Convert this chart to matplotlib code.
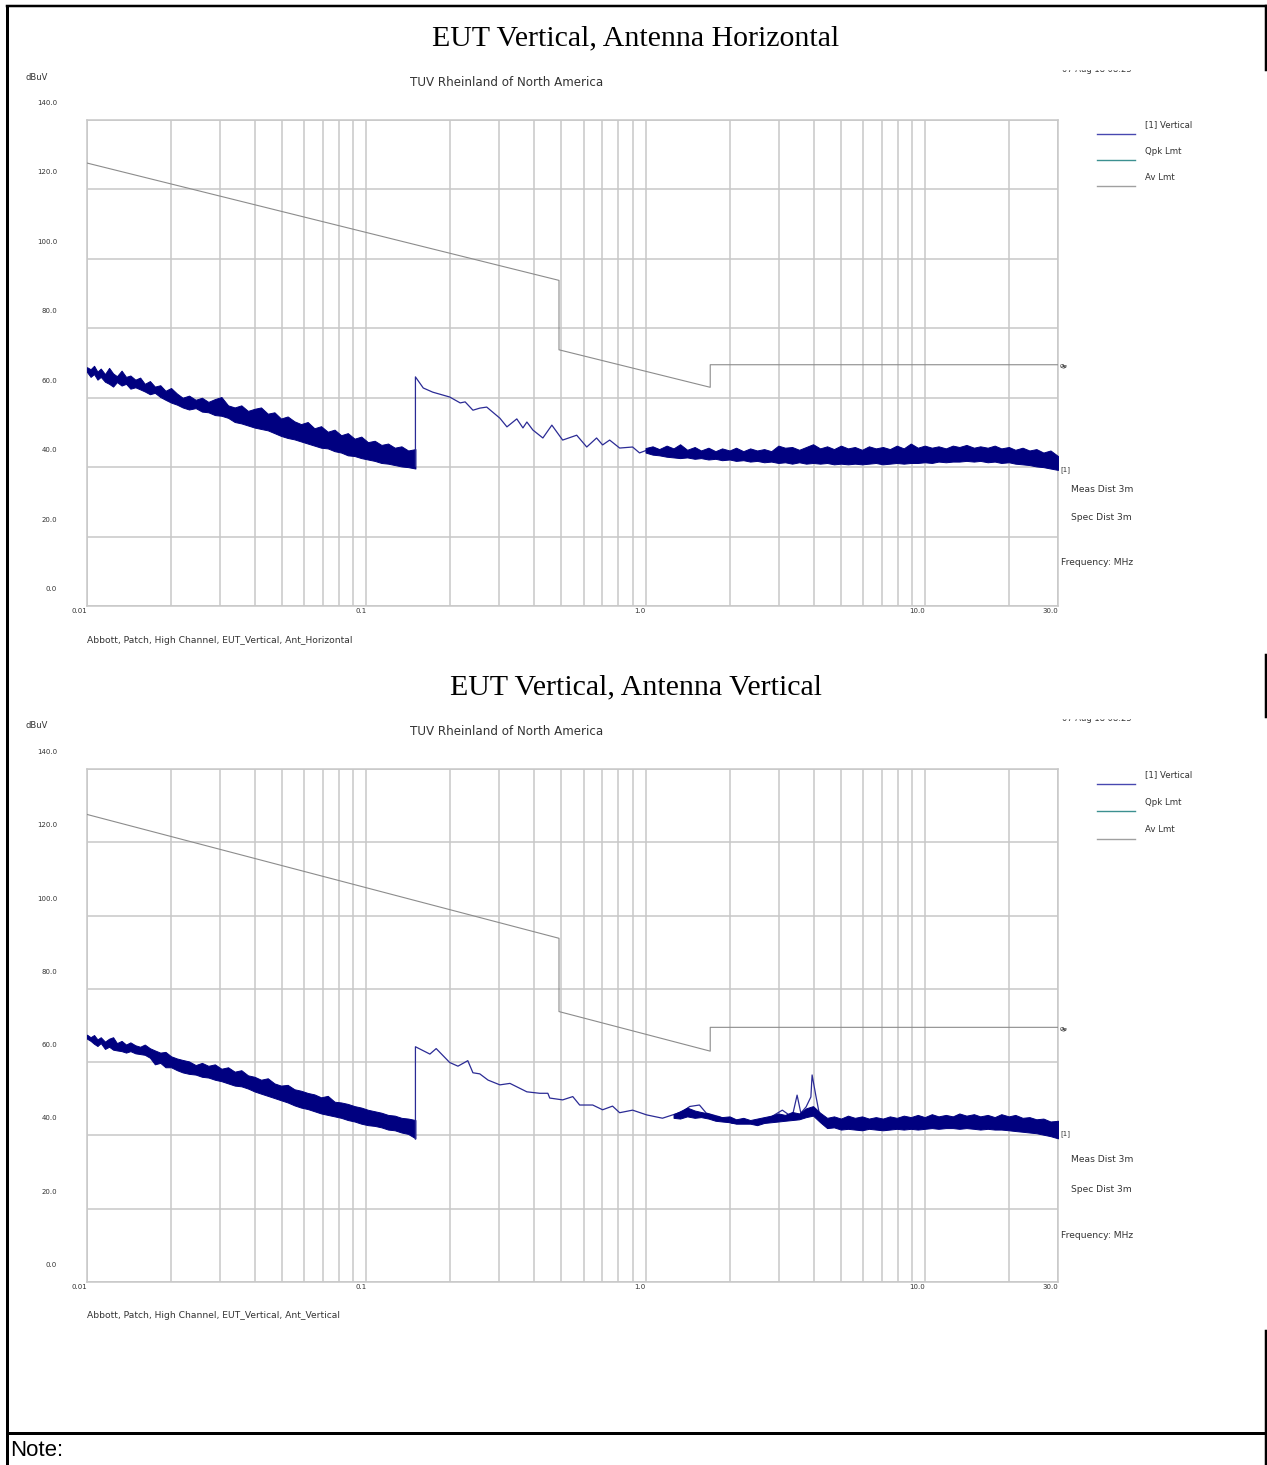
import matplotlib.pyplot as plt
from matplotlib.lines import Line2D
from matplotlib.patches import Rectangle

W, H = 1267, 1465

# ---- limit line (same in both charts) ----
lim_f = [0.01, 0.49, 0.49, 1.705, 1.705, 30.0]
lim_v = [127.6, 93.8, 73.8, 63.0, 69.5, 69.5]

# ---- chart 1: EUT Vertical, Antenna Horizontal ----
# low band 10 kHz - 150 kHz, envelope of the noisy trace (MHz, dBuV)
h_bandA_f = [0.0100, 0.0103, 0.0106, 0.0109, 0.0112, 0.0116, 0.0120, 0.0124, 0.0128, 0.0133,
             0.0138, 0.0143, 0.0149, 0.0155, 0.0161, 0.0168, 0.0175, 0.0183, 0.0191, 0.0200,
             0.0210, 0.0220, 0.0232, 0.0245, 0.0258, 0.0272, 0.0287, 0.0303, 0.0320, 0.0338,
             0.0357, 0.0377, 0.0398, 0.0420, 0.0444, 0.0469, 0.0495, 0.0523, 0.0553, 0.0584,
             0.0617, 0.0652, 0.0689, 0.0728, 0.0770, 0.0813, 0.0859, 0.0908, 0.0960, 0.1014,
             0.1072, 0.1133, 0.1197, 0.1265, 0.1337, 0.1413, 0.1500]
h_bandA_hi = [68.8, 68.2, 69.2, 67.5, 68.4, 66.8, 68.6, 67.0, 66.2, 67.8,
              66.0, 66.4, 65.2, 65.8, 64.0, 64.8, 63.2, 63.6, 62.0, 62.8,
              61.2, 60.0, 60.6, 59.4, 60.0, 58.8, 59.6, 60.2, 57.8, 57.2,
              57.8, 56.2, 56.8, 57.2, 55.4, 55.8, 54.0, 54.6, 53.2, 52.4,
              53.0, 51.2, 51.8, 50.2, 50.8, 49.2, 49.8, 48.2, 48.8, 47.2,
              47.6, 46.4, 46.8, 45.6, 46.0, 44.8, 45.2]
h_bandA_lo = [67.4, 66.0, 66.8, 65.2, 66.0, 64.6, 64.0, 63.2, 64.5, 63.5,
              64.0, 62.6, 63.0, 62.4, 61.8, 61.0, 61.4, 60.2, 59.4, 58.6,
              58.0, 57.2, 56.6, 57.0, 56.0, 55.8, 55.0, 54.8, 54.2, 53.0,
              52.6, 52.0, 51.4, 51.0, 50.6, 49.8, 49.0, 48.4, 48.0, 47.4,
              46.8, 46.2, 45.6, 45.4, 44.6, 44.2, 43.4, 43.2, 42.6, 42.2,
              41.8, 41.2, 41.0, 40.6, 40.2, 40.0, 39.6]
# 150 kHz - 1.5 MHz, single trace
h_mid_f = [0.150, 0.150, 0.160, 0.173, 0.199, 0.217, 0.226, 0.241, 0.255, 0.270,
           0.301, 0.319, 0.346, 0.364, 0.376, 0.395, 0.429, 0.462, 0.505, 0.567,
           0.616, 0.668, 0.702, 0.744, 0.808, 0.899, 0.952, 1.06, 1.19, 1.36, 1.47]
h_mid_v = [40.3, 66.0, 62.8, 61.6, 60.2, 58.5, 58.8, 56.4, 57.0, 57.3,
           54.1, 51.6, 53.9, 51.3, 53.0, 50.7, 48.4, 52.1, 47.8, 49.2,
           45.8, 48.4, 46.4, 47.8, 45.5, 45.8, 44.1, 45.5, 44.4, 43.5, 44.9]
# 1 MHz - 30 MHz, envelope
h_bandC_f = [1.00, 1.06, 1.12, 1.19, 1.26, 1.33, 1.41, 1.50, 1.58, 1.68,
             1.78, 1.88, 2.00, 2.11, 2.24, 2.37, 2.51, 2.66, 2.82, 2.99,
             3.16, 3.35, 3.55, 3.76, 3.98, 4.22, 4.47, 4.73, 5.01, 5.31,
             5.62, 5.96, 6.31, 6.68, 7.08, 7.50, 7.94, 8.41, 8.91, 9.44,
             10.0, 10.6, 11.2, 11.9, 12.6, 13.3, 14.1, 15.0, 15.8, 16.8,
             17.8, 18.8, 20.0, 21.1, 22.4, 23.7, 25.1, 26.6, 28.2, 30.0]
h_bandC_hi = [45.5, 46.0, 45.2, 46.2, 45.4, 46.6, 45.0, 45.8, 44.8, 45.6,
              44.6, 45.4, 44.8, 45.6, 44.6, 45.4, 44.8, 45.2, 44.6, 46.2,
              45.6, 45.8, 45.0, 45.8, 46.6, 45.4, 46.0, 45.2, 46.2, 45.4,
              45.8, 45.0, 46.0, 45.4, 45.8, 45.2, 46.2, 45.4, 46.8, 45.6,
              46.2, 45.6, 46.0, 45.4, 46.2, 45.8, 46.4, 45.6, 46.0, 45.6,
              46.2, 45.4, 45.8, 45.0, 45.6, 44.8, 45.2, 44.2, 44.8, 43.2]
h_bandC_lo = [44.2, 43.6, 43.4, 43.0, 42.8, 42.6, 42.8, 42.4, 42.6, 42.2,
              42.4, 42.0, 42.2, 41.8, 42.0, 41.6, 41.8, 41.4, 41.6, 41.2,
              41.4, 41.0, 41.4, 41.0, 41.2, 41.0, 41.2, 40.8, 41.0, 40.8,
              41.0, 40.8, 41.0, 41.2, 40.8, 41.0, 41.2, 41.0, 41.2, 41.2,
              41.4, 41.2, 41.6, 41.4, 41.6, 41.6, 41.8, 41.6, 41.8, 41.4,
              41.6, 41.2, 41.4, 41.0, 40.8, 40.6, 40.2, 40.0, 39.6, 39.2]

# ---- chart 2: EUT Vertical, Antenna Vertical ----
v_bandA_f = h_bandA_f
v_bandA_hi = [67.5, 66.8, 67.4, 66.2, 66.8, 65.6, 66.4, 66.8, 65.2, 65.8,
              64.8, 65.4, 64.6, 64.2, 64.8, 63.8, 63.2, 62.6, 62.8, 61.6,
              61.0, 60.6, 60.2, 59.2, 59.8, 59.0, 59.4, 58.2, 58.6, 57.4,
              57.8, 56.4, 56.0, 55.2, 55.6, 54.2, 53.6, 53.8, 52.6, 52.2,
              51.6, 51.2, 50.4, 50.8, 49.2, 49.0, 48.6, 48.0, 47.6, 47.0,
              46.6, 46.2, 45.6, 45.4, 44.8, 44.6, 44.2]
v_bandA_lo = [66.4, 65.8, 65.0, 64.4, 65.2, 63.6, 64.2, 63.4, 63.2, 63.0,
              62.6, 63.0, 62.4, 62.2, 62.0, 61.2, 59.4, 59.8, 58.6, 58.6,
              57.8, 57.2, 56.8, 56.6, 56.0, 55.8, 55.2, 54.8, 54.2, 53.6,
              53.4, 52.8, 52.0, 51.4, 50.8, 50.2, 49.6, 49.0, 48.2, 47.6,
              47.2, 46.6, 46.0, 45.6, 45.2, 44.8, 44.2, 43.8, 43.2, 42.8,
              42.6, 42.2, 41.6, 41.4, 40.8, 40.4, 39.2]
v_mid_f = [0.150, 0.150, 0.169, 0.178, 0.199, 0.213, 0.231, 0.241, 0.255, 0.273,
           0.301, 0.327, 0.376, 0.418, 0.447, 0.454, 0.505, 0.549, 0.581, 0.647,
           0.702, 0.762, 0.808, 0.899, 1.01, 1.15, 1.36, 1.44, 1.56, 1.65,
           1.84, 2.04, 2.41, 2.70, 3.09, 3.35, 3.49, 3.60, 3.76, 3.91,
           3.95, 4.07, 4.18, 4.28]
v_mid_v = [39.0, 64.2, 62.2, 63.7, 59.9, 58.9, 60.4, 57.1, 56.8, 55.1,
           53.8, 54.2, 51.9, 51.5, 51.5, 50.2, 49.7, 50.6, 48.3, 48.3,
           47.0, 48.0, 46.2, 46.9, 45.6, 44.7, 46.5, 47.9, 48.3, 46.1,
           45.1, 43.3, 43.7, 44.2, 46.9, 45.0, 51.0, 46.1, 47.8, 50.5,
           56.5, 51.0, 46.4, 44.2]
v_bandC_f = [1.26, 1.33, 1.41, 1.50, 1.58, 1.68, 1.78, 1.88, 2.00, 2.11,
             2.24, 2.37, 2.51, 2.66, 2.82, 2.99, 3.16, 3.35, 3.55, 3.76,
             3.98, 4.22, 4.47, 4.73, 5.01, 5.31, 5.62, 5.96, 6.31, 6.68,
             7.08, 7.50, 7.94, 8.41, 8.91, 9.44, 10.0, 10.6, 11.2, 11.9,
             12.6, 13.3, 14.1, 15.0, 15.8, 16.8, 17.8, 18.8, 20.0, 21.1,
             22.4, 23.7, 25.1, 26.6, 28.2, 30.0]
v_bandC_hi = [45.8, 46.6, 47.6, 46.8, 46.4, 46.0, 45.4, 45.0, 45.2, 44.4,
              44.8, 44.2, 44.6, 45.0, 45.4, 46.0, 45.6, 46.4, 46.0, 47.4,
              48.0, 46.2, 44.8, 45.2, 44.6, 45.4, 44.8, 45.2, 44.6, 45.0,
              44.6, 45.2, 44.8, 45.4, 45.0, 45.6, 45.0, 45.8, 45.2, 45.6,
              45.2, 46.0, 45.4, 45.8, 45.2, 45.6, 45.0, 45.8, 45.2, 45.6,
              44.8, 45.0, 44.4, 44.6, 43.8, 44.0]
v_bandC_lo = [44.8, 44.6, 45.2, 44.8, 45.0, 44.6, 44.0, 43.8, 43.6, 43.2,
              43.2, 43.2, 42.8, 43.4, 43.6, 43.8, 44.0, 44.2, 44.4, 45.0,
              45.4, 43.6, 42.0, 42.2, 41.6, 41.8, 41.6, 41.4, 41.8, 41.6,
              41.4, 41.6, 41.8, 41.6, 41.8, 41.6, 41.8, 42.0, 41.8, 42.0,
              42.0, 41.8, 42.0, 41.8, 41.6, 41.8, 41.6, 41.6, 41.4, 41.2,
              41.0, 40.8, 40.6, 40.2, 39.8, 39.2]

y_ticks = [0, 20, 40, 60, 80, 100, 120, 140]
x_grid = [0.01, 0.02, 0.03, 0.04, 0.05, 0.06, 0.07, 0.08, 0.09,
          0.1, 0.2, 0.3, 0.4, 0.5, 0.6, 0.7, 0.8, 0.9,
          1, 2, 3, 4, 5, 6, 7, 8, 9, 10, 20, 30]
x_labels = [(0.01, '0.01'), (0.1, '0.1'), (1.0, '1.0'), (10.0, '10.0'), (30.0, '30.0')]

trace_col = '#000080'
grid_col = '#c8c8c8'
txt_col = '#333333'


def fx(x):
    return x / W


def fy(y):
    return 1 - y / H


def chart(top, bottom, title, footer, bandA, mid, bandC, tag_y):
    ax = fig.add_axes([fx(87), fy(bottom), fx(1058) - fx(87), fy(top) - fy(bottom)])
    ax.set_xscale('log')
    ax.set_xlim(0.01, 30)
    ax.set_ylim(0, 140)
    ax.set_xticks(x_grid)
    ax.xaxis.set_minor_locator(plt.NullLocator())
    ax.set_yticks(y_ticks)
    ax.tick_params(length=0, labelbottom=False, labelleft=False)
    ax.grid(True, color=grid_col, lw=1.1)
    for s in ax.spines.values():
        s.set_color(grid_col)
        s.set_linewidth(1.1)

    ax.plot(lim_f, lim_v, color='#8c8c8c', lw=0.8, zorder=3)
    ax.fill_between(bandA[0], bandA[2], bandA[1], color=trace_col, lw=0.7, zorder=4)
    ax.plot(mid[0], mid[1], color='#2b2b95', lw=0.9, zorder=4)
    ax.fill_between(bandC[0], bandC[2], bandC[1], color=trace_col, lw=0.7, zorder=4)

    for v in y_ticks:
        ax.annotate('%.1f' % v, xy=(0, v), xycoords=('axes fraction', 'data'),
                    xytext=(-30, 17), textcoords='offset pixels',
                    ha='right', va='center', fontsize=5, color=txt_col)
    for f, lab in x_labels:
        ax.annotate(lab, xy=(f, 0), xycoords=('data', 'axes fraction'),
                    xytext=(0, -2), textcoords='offset pixels',
                    ha='right', va='top', fontsize=5, color=txt_col)

    # tags at right end of the traces
    ax.annotate('Qp', xy=(1, 69.5), xycoords=('axes fraction', 'data'), xytext=(2, -2),
                textcoords='offset pixels', ha='left', va='center', fontsize=4, color=txt_col)
    ax.annotate('Av', xy=(1, 69.5), xycoords=('axes fraction', 'data'), xytext=(3, -2),
                textcoords='offset pixels', ha='left', va='center', fontsize=4, color=txt_col)
    ax.annotate('[1]', xy=(1, tag_y), xycoords=('axes fraction', 'data'), xytext=(2, 0),
                textcoords='offset pixels', ha='left', va='center', fontsize=5, color=txt_col)

    # texts around the chart
    fig.text(fx(636), fy(top - 82), title, ha='center', va='center',
             fontsize=21.5, family='Liberation Serif')
    fig.text(fx(25), fy(top - 43), 'dBuV', ha='left', va='center', fontsize=6, color=txt_col)
    fig.text(fx(507), fy(top - 38), 'TUV Rheinland of North America', ha='center',
             va='center', fontsize=8.6, color=txt_col)
    # date stamp, mostly hidden behind the title area
    fig.text(fx(1062), fy(top - 51), '07 Aug 18 08:23 \u2013', ha='left', va='center',
             fontsize=6, color=txt_col)
    fig.add_artist(Rectangle((fx(1055), fy(top - 51.5)), fx(110), 30 / H,
                             transform=fig.transFigure, color='white', zorder=5))
    fig.text(fx(87), fy(bottom + 34), footer, ha='left', va='center', fontsize=6.6,
             color=txt_col)

    sc = (bottom - top) / 486.0
    leg = [('[1] Vertical', '#4848b0'), ('Qpk Lmt', '#3c9090'), ('Av Lmt', '#a0a0a0')]
    for i, (name, col) in enumerate(leg):
        yl = top + 14 * sc + i * 26 * sc
        fig.text(fx(1145), fy(yl - 9), name, ha='left', va='center', fontsize=6.2,
                 color=txt_col)
        fig.add_artist(Line2D([fx(1097), fx(1135)], [fy(yl), fy(yl)], color=col, lw=1.0,
                              transform=fig.transFigure))
    fig.text(fx(1071), fy(top + 370 * sc), 'Meas Dist 3m', ha='left', va='center',
             fontsize=6.6, color=txt_col)
    fig.text(fx(1071), fy(top + 398 * sc), 'Spec Dist 3m', ha='left', va='center',
             fontsize=6.6, color=txt_col)
    fig.text(fx(1061), fy(top + 442 * sc), 'Frequency: MHz', ha='left', va='center',
             fontsize=6.6, color=txt_col)
    return ax


fig = plt.figure(figsize=(W / 100, H / 100), dpi=100)

chart(120, 606, 'EUT Vertical, Antenna Horizontal',
      'Abbott, Patch, High Channel, EUT_Vertical, Ant_Horizontal',
      (h_bandA_f, h_bandA_hi, h_bandA_lo), (h_mid_f, h_mid_v),
      (h_bandC_f, h_bandC_hi, h_bandC_lo), 39.2)
chart(769, 1282, 'EUT Vertical, Antenna Vertical',
      'Abbott, Patch, High Channel, EUT_Vertical, Ant_Vertical',
      (v_bandA_f, v_bandA_hi, v_bandA_lo), (v_mid_f, v_mid_v),
      (v_bandC_f, v_bandC_hi, v_bandC_lo), 40.4)

# page frame
frame = [([7, 7], [6, 1465], 3), ([7, 1267], [6, 6], 2.5), ([7, 1267], [1433, 1433], 3),
         ([1266, 1266], [6, 70], 2.5), ([1266, 1266], [655, 717], 2.5),
         ([1266, 1266], [1331, 1465], 2.5)]
for xs, ys, w in frame:
    fig.add_artist(Line2D([fx(x) for x in xs], [fy(y) for y in ys], color='black',
                          lw=w * 0.72, transform=fig.transFigure, zorder=6))
fig.text(fx(10), fy(1451), 'Note:', ha='left', va='center', fontsize=16,
         family='Liberation Sans')

fig.savefig('out.png', dpi=100)
